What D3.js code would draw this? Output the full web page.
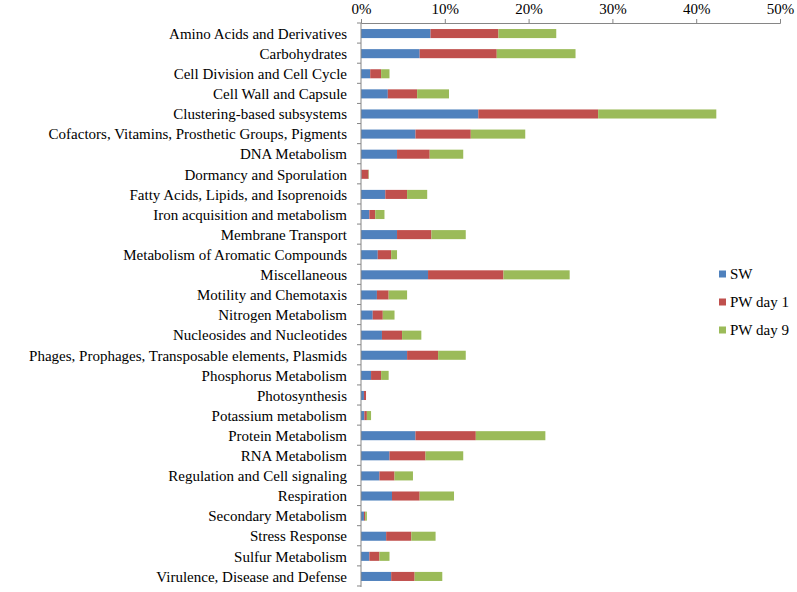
<!DOCTYPE html>
<html>
<head>
<meta charset="utf-8">
<script src="https://cdn.jsdelivr.net/npm/d3@7"></script>
<style>
  html, body { margin: 0; padding: 0; background: #fff; }
  svg { display: block; }
  text { font-family: "Liberation Serif", "DejaVu Serif", serif; fill: #000; }
</style>
</head>
<body>
<svg id="chart" width="797" height="592"></svg>
<script>
const categories = [
  "Amino Acids and Derivatives",
  "Carbohydrates",
  "Cell Division and Cell Cycle",
  "Cell Wall and Capsule",
  "Clustering-based subsystems",
  "Cofactors, Vitamins, Prosthetic Groups, Pigments",
  "DNA Metabolism",
  "Dormancy and Sporulation",
  "Fatty Acids, Lipids, and Isoprenoids",
  "Iron acquisition and metabolism",
  "Membrane Transport",
  "Metabolism of Aromatic Compounds",
  "Miscellaneous",
  "Motility and Chemotaxis",
  "Nitrogen Metabolism",
  "Nucleosides and Nucleotides",
  "Phages, Prophages, Transposable elements, Plasmids",
  "Phosphorus Metabolism",
  "Photosynthesis",
  "Potassium metabolism",
  "Protein Metabolism",
  "RNA Metabolism",
  "Regulation and Cell signaling",
  "Respiration",
  "Secondary Metabolism",
  "Stress Response",
  "Sulfur Metabolism",
  "Virulence, Disease and Defense"
];
const seriesNames = ["SW", "PW day 1", "PW day 9"];
const sw   = [8.3, 7.0, 1.1, 3.2, 14.0, 6.5, 4.3, 0.05, 2.9, 1.0, 4.3, 2.0, 8.0, 1.9, 1.4, 2.5, 5.5, 1.2, 0.35, 0.4, 6.5, 3.4, 2.2, 3.7, 0.35, 3.0, 1.0, 3.6];
const pw1  = [8.1, 9.2, 1.3, 3.5, 14.3, 6.6, 3.9, 0.85, 2.6, 0.7, 4.1, 1.6, 9.0, 1.4, 1.2, 2.4, 3.7, 1.2, 0.25, 0.3, 7.2, 4.3, 1.8, 3.3, 0.15, 3.0, 1.2, 2.8];
const pw9  = [6.9, 9.4, 1.0, 3.8, 14.1, 6.5, 4.0, 0.05, 2.4, 1.1, 4.1, 0.7, 7.9, 2.2, 1.4, 2.3, 3.3, 0.9, 0.0, 0.5, 8.3, 4.5, 2.2, 4.1, 0.2, 2.9, 1.2, 3.3];
const xTicks = [0, 10, 20, 30, 40, 50];
const colors = ["#4F81BD", "#C0504D", "#9BBB59"];

const svg = d3.select("#chart");
const mLeft = 361, mRight = 780, mTop = 23, mBottom = 587;

const x = d3.scaleLinear().domain([0, 50]).range([mLeft, mRight]);
const y = d3.scaleBand().domain(categories).range([mTop, mBottom])
  .paddingInner(0.55).paddingOuter(0.3);

const rows = categories.map((c, i) => ({ cat: c, SW: sw[i], "PW day 1": pw1[i], "PW day 9": pw9[i] }));
const stack = d3.stack().keys(seriesNames)(rows);

// bars
svg.append("g").selectAll("g").data(stack).join("g")
  .attr("fill", (d, i) => colors[i])
  .selectAll("rect").data(d => d).join("rect")
  .attr("x", d => x(d[0]))
  .attr("width", d => Math.max(0, x(d[1]) - x(d[0])))
  .attr("y", d => y(d.data.cat))
  .attr("height", y.bandwidth());

// x axis on top
const xAxis = d3.axisTop(x).tickValues(xTicks).tickFormat(d => d + "%").tickSize(4).tickPadding(5);
const gx = svg.append("g").attr("transform", `translate(0,${mTop})`).call(xAxis);
gx.select(".domain").attr("stroke", "#868686");
gx.selectAll(".tick line").attr("stroke", "#868686");
gx.selectAll(".tick text").attr("font-size", 15).attr("font-family", "Liberation Serif, serif");

// y axis (left)
const gy = svg.append("g");
gy.append("line").attr("x1", mLeft).attr("x2", mLeft).attr("y1", mTop).attr("y2", mBottom).attr("stroke", "#868686");
const step = y.step();
const boundaries = d3.range(categories.length + 1).map(i => mTop + i * step);
gy.selectAll("line.tk").data(boundaries).join("line").attr("class", "tk")
  .attr("x1", mLeft - 4).attr("x2", mLeft).attr("y1", d => d).attr("y2", d => d).attr("stroke", "#868686");
gy.selectAll("text").data(categories).join("text")
  .attr("x", 347)
  .attr("y", d => y(d) + y.bandwidth() / 2)
  .attr("dy", "0.35em")
  .attr("text-anchor", "end")
  .attr("font-size", 15)
  .text(d => d);

// legend
const legendY = [274, 302, 330];
const lg = svg.append("g");
seriesNames.forEach((s, i) => {
  lg.append("rect").attr("x", 719).attr("y", legendY[i] - 3.5).attr("width", 7).attr("height", 7).attr("fill", colors[i]);
  lg.append("text").attr("x", 730).attr("y", legendY[i]).attr("dy", "0.35em").attr("font-size", 15).text(s);
});
</script>
</body>
</html>
